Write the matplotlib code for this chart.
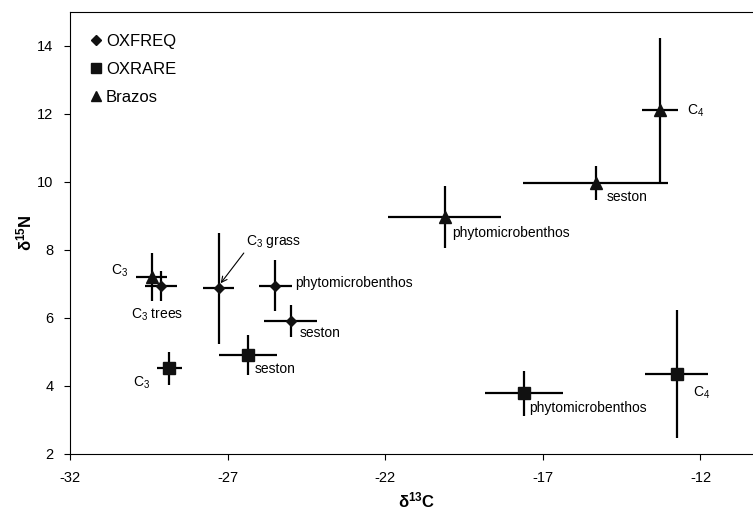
import matplotlib
matplotlib.use("Agg")
import matplotlib.pyplot as plt

plt.rcParams['font.family'] = ['Liberation Sans', 'DejaVu Sans']
plt.rcParams['mathtext.default'] = 'regular'
plt.rcParams['axes.unicode_minus'] = False

# Brazos (triangles)
brazos_x = [-29.41, -20.12, -15.33, -13.29]
brazos_y = [7.21, 8.98, 9.96, 12.12]
brazos_xerr = [0.5, 1.8, 2.3, 0.57]
brazos_yerr = [0.7, 0.91, 0.5, 2.11]

# OXFREQ (diamonds)
oxfreq_x = [-29.12, -27.29, -25.49, -25.0]
oxfreq_y = [6.94, 6.87, 6.94, 5.92]
oxfreq_xerr = [0.5, 0.49, 0.52, 0.85]
oxfreq_yerr = [0.45, 1.63, 0.75, 0.47]

# OXRARE (squares)
oxrare_x = [-28.85, -26.36, -17.61, -12.76]
oxrare_y = [4.52, 4.91, 3.79, 4.35]
oxrare_xerr = [0.4, 0.92, 1.24, 1.0]
oxrare_yerr = [0.49, 0.58, 0.66, 1.87]

# point labels: (text, x, y, ha)
labels = [
    ("$C_4$", -12.44, 12.1, "left"),
    ("seston", -14.98, 9.56, "left"),
    ("phytomicrobenthos", -19.88, 8.5, "left"),
    ("$C_3$", -30.16, 7.39, "right"),
    ("$C_3$ trees", -29.23, 6.09, "center"),
    ("phytomicrobenthos", -24.86, 7.02, "left"),
    ("seston", -24.70, 5.57, "left"),
    ("seston", -26.13, 4.49, "left"),
    ("$C_3$", -29.46, 4.08, "right"),
    ("phytomicrobenthos", -17.45, 3.34, "left"),
    ("$C_4$", -12.24, 3.79, "left"),
]

fig = plt.figure(figsize=(7.53, 5.17), dpi=100)
ax = fig.add_axes([0.093, 0.122, 0.921, 0.855])

common = dict(fmt='none', ecolor='black', elinewidth=1.6, capsize=0, zorder=2)
ax.errorbar(oxfreq_x, oxfreq_y, xerr=oxfreq_xerr, yerr=oxfreq_yerr, **common)
ax.errorbar(oxrare_x, oxrare_y, xerr=oxrare_xerr, yerr=oxrare_yerr, **common)
ax.errorbar(brazos_x, brazos_y, xerr=brazos_xerr, yerr=brazos_yerr, **common)

ax.plot(oxfreq_x, oxfreq_y, 'D', color='#111111', ms=5.5, ls='none', label='OXFREQ', zorder=3)
ax.plot(oxrare_x, oxrare_y, 's', color='#111111', ms=9, ls='none', label='OXRARE', zorder=3)
ax.plot(brazos_x, brazos_y, '^', color='#111111', ms=9, ls='none', label='Brazos', zorder=3)

for txt, x, y, ha in labels:
    ax.text(x, y, txt, fontsize=10, ha=ha, va='center')

ax.annotate("$C_3$ grass", xy=(-27.22, 7.02), xytext=(-26.42, 8.24),
            fontsize=10, ha='left', va='center',
            arrowprops=dict(arrowstyle='->', color='black', lw=0.8,
                            shrinkA=0, shrinkB=0, relpos=(0, 0)))

ax.set_xlim(-32, -10)
ax.set_ylim(2, 15)
ax.set_xticks([-32, -27, -22, -17, -12])
ax.set_yticks([2, 4, 6, 8, 10, 12, 14])
ax.tick_params(direction='out', length=4, width=0.8, labelsize=10.5, pad=8)

ax.set_xlabel("δ$^{13}$C", fontsize=12, fontweight='bold', labelpad=4)
ax.set_ylabel("δ$^{15}$N", fontsize=12, fontweight='bold', labelpad=2)

leg = ax.legend(loc='upper left', bbox_to_anchor=(0.028, 0.951), frameon=False,
                fontsize=12, handlelength=0.8, handletextpad=0.2,
                labelspacing=0.8, borderpad=0, borderaxespad=0, markerscale=0.85)

fig.savefig("out.png", dpi=100)
